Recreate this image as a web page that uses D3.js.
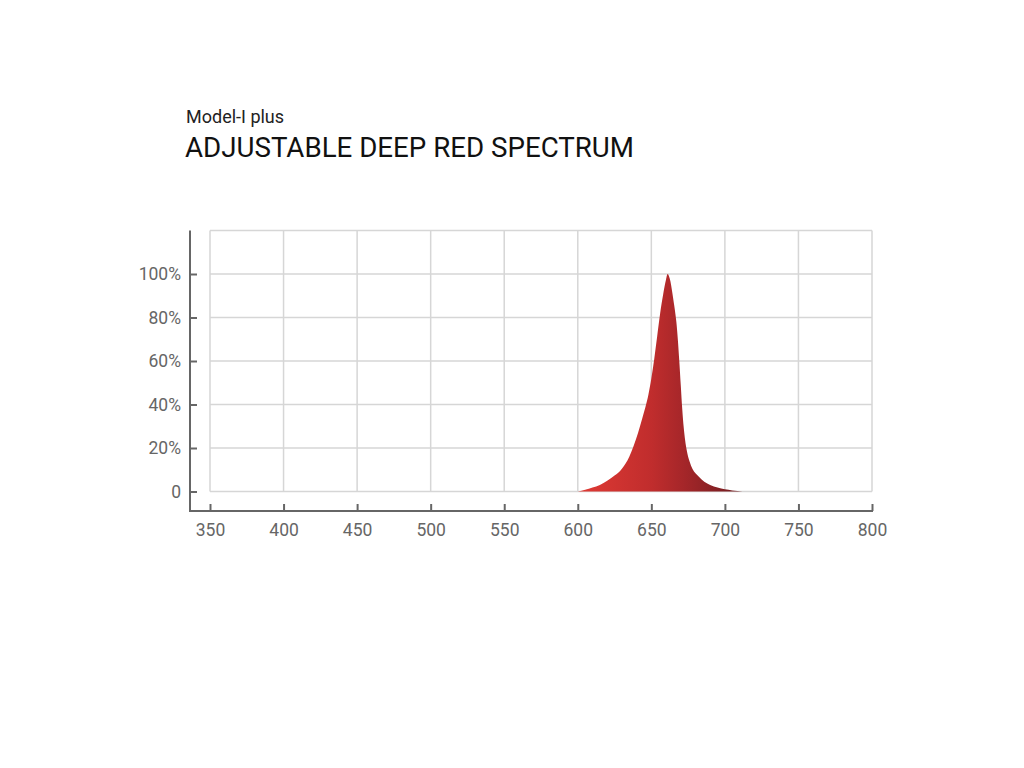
<!DOCTYPE html>
<html><head><meta charset="utf-8">
<script src="https://cdn.jsdelivr.net/npm/d3@7"></script>
<style>body{margin:0;background:#fff}svg{display:block}text{font-family:Roboto,sans-serif}</style>
</head><body><svg id="c" width="1024" height="768"></svg>
<script>
const wavelengths = [600,605,610,615,620,625,630,635,638,641,644,646,648,650,652,654,656,658,660,661,662,663,664,665,666,667,668,669,670,671,672,673,674,675,676,678,682,686,690,695,700,705,712];
const intensity   = [0,0.8,1.8,3,5,7.3,10.5,16,21,27,34,38.8,44.5,52,61,71.5,82,90.5,97.5,100,99,96.5,92.5,88,83.5,78,70,60,49,38,29.5,23.5,19.2,16,13.8,10.3,7,4.5,3,1.8,1.0,0.5,0];
const xTicks = [350,400,450,500,550,600,650,700,750,800];
const yTicks = [0,20,40,60,80,100];
const yLabels = ["0","20%","40%","60%","80%","100%"];
const subtitle = "Model-I plus";
const title = "ADJUSTABLE DEEP RED SPECTRUM";

const svg = d3.select("#c");
const x = d3.scaleLinear().domain([350,800]).range([210,872]);
const y = d3.scaleLinear().domain([0,120]).range([491.5,230.5]);

svg.append("text").attr("x",186).attr("y",123).attr("font-size",18).attr("fill","#222").text(subtitle);
svg.append("text").attr("x",185).attr("y",157).attr("font-size",27.7).attr("fill","#111").text(title);

const g = svg.append("g");
g.selectAll(".vg").data(xTicks).join("line")
  .attr("x1",d=>x(d)).attr("x2",d=>x(d)).attr("y1",y(120)).attr("y2",y(0))
  .attr("stroke","#d6d6d6").attr("stroke-width",1.5);
g.selectAll(".hg").data(yTicks.concat([120])).join("line")
  .attr("x1",x(350)).attr("x2",x(800)).attr("y1",d=>y(d)).attr("y2",d=>y(d))
  .attr("stroke","#d6d6d6").attr("stroke-width",1.5);

const defs = svg.append("defs");
const grad = defs.append("linearGradient").attr("id","rg").attr("gradientUnits","userSpaceOnUse")
  .attr("x1",x(600)).attr("x2",x(712)).attr("y1",0).attr("y2",0);
grad.append("stop").attr("offset","0%").attr("stop-color","#e03a34");
grad.append("stop").attr("offset","45%").attr("stop-color","#c02d2d");
grad.append("stop").attr("offset","65%").attr("stop-color","#a42629");
grad.append("stop").attr("offset","100%").attr("stop-color","#6e1c20");
const data = wavelengths.map((w,i)=>({w, v:intensity[i]}));
g.append("path").datum(data)
  .attr("d", d3.area().x(d=>x(d.w)).y0(y(0)).y1(d=>y(d.v)).curve(d3.curveMonotoneX))
  .attr("fill","url(#rg)");

const axisColor = "#666";
const ax = svg.append("g").attr("transform","translate(0,511)")
  .call(d3.axisBottom(x).tickValues(xTicks).tickSize(-7).tickSizeOuter(0).tickPadding(13));
ax.select(".domain").attr("d",`M190,0H${x(800)+1}`).attr("stroke",axisColor).attr("stroke-width",2);
ax.selectAll(".tick line").attr("stroke",axisColor).attr("stroke-width",2);
ax.selectAll(".tick text").attr("fill",axisColor).attr("font-size",17.5).attr("font-family","Roboto");

const ay = svg.append("g").attr("transform","translate(190,0)")
  .call(d3.axisLeft(y).tickValues(yTicks).tickFormat((d,i)=>yLabels[i]).tickSize(-7).tickSizeOuter(0).tickPadding(9));
ay.select(".domain").attr("d",`M0,${y(120)}V512`).attr("stroke",axisColor).attr("stroke-width",2);
ay.selectAll(".tick line").attr("stroke",axisColor).attr("stroke-width",2);
ay.selectAll(".tick text").attr("fill",axisColor).attr("font-size",17.5).attr("font-family","Roboto");
</script></body></html>
